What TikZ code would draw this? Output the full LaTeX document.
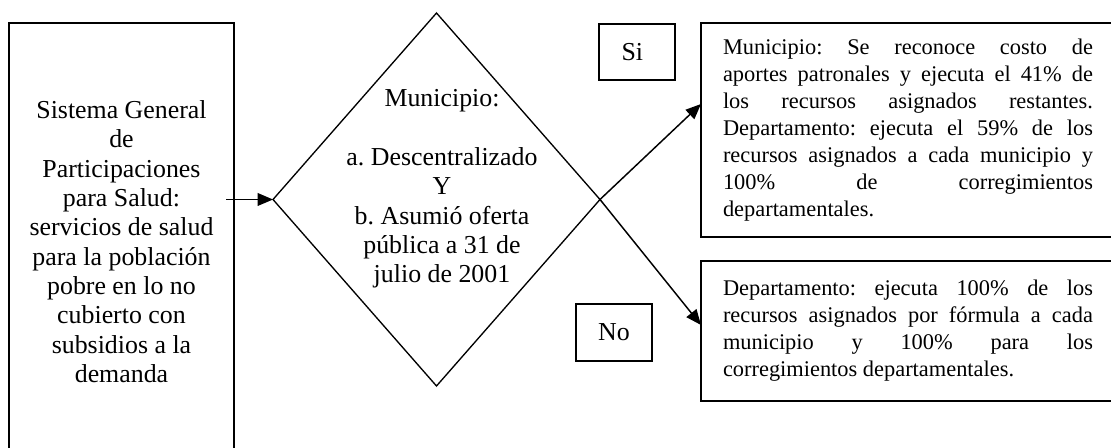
\documentclass[tikz,border=0pt]{standalone}
\usepackage{fontspec}
\setmainfont{Liberation Serif}
\usetikzlibrary{shapes.geometric,arrows.meta,calc}
\newlength\rw \setlength\rw{277.5pt}
\newcommand\jl[1]{\hbox to\rw{#1}}
\newcommand\rl[1]{\hbox{#1}}
\frenchspacing
\tikzset{
  box/.style={draw, line width=1.3pt, inner sep=0pt, outer sep=0pt},
  big/.style={font=\fontsize{19.4pt}{22pt}\selectfont},
  small/.style={font=\fontsize{16.8pt}{20.2pt}\selectfont},
  arr/.style={-{Triangle[length=11.5pt,width=9.5pt]}, line width=1.1pt},
}
\begin{document}
\begin{tikzpicture}[x=0.75pt,y=-0.75pt]
\useasboundingbox (0,0) rectangle (1111,448);
\clip (0,0) rectangle (1111,448);
\fill[white] (0,0) rectangle (1111,448);

\node[box, big, minimum width=168.75pt, minimum height=327.75pt, align=center] (src) at (121.5,241.5)
  {Sistema General\\de\\Participaciones\\para Salud:\\servicios de salud\\para la población\\pobre en lo no\\cubierto con\\subsidios a la\\demanda};

\node[draw, diamond, line width=1pt, minimum width=245.25pt, minimum height=279.75pt, inner sep=0pt, outer sep=0pt] (dec) at (436.5,199.5) {};
\node[big, align=center] (dect) at (442,189)
  {Municipio:\\[22pt]a. Descentralizado\\Y\\b. Asumió oferta\\pública a 31 de\\julio de 2001};

\node[box, big, minimum width=57pt, minimum height=42pt] (si) at (637,52) {Si\kern7pt};
\node[box, big, minimum width=57pt, minimum height=42.75pt] (no) at (614,332.5) {No};

\node[box, small, minimum width=310.5pt, minimum height=160.5pt] (top) at (908,130)
  {\vbox{\jl{Municipio: Se reconoce costo de}
  \jl{aportes patronales y ejecuta el 41\% de}
  \jl{los recursos asignados restantes.}
  \jl{Departamento: ejecuta el 59\% de los}
  \jl{recursos asignados a cada municipio y}
  \jl{100\% de corregimientos}
  \rl{departamentales.}}};

\node[box, small, minimum width=310.5pt, minimum height=105pt] (bot) at (908,331)
  {\vbox{\jl{Departamento: ejecuta 100\% de los}
  \jl{recursos asignados por fórmula a cada}
  \jl{municipio y 100\% para los}
  \rl{corregimientos departamentales.}}};

\draw[arr] ($(src.east |- dec.west)+(-6pt,0)$) -- (dec.west);
\draw[arr] (dec.east) -- ([yshift=-60.75pt]top.north west);
\draw[arr] (dec.east) -- ([yshift=4.5pt]bot.west);
\end{tikzpicture}
\end{document}
